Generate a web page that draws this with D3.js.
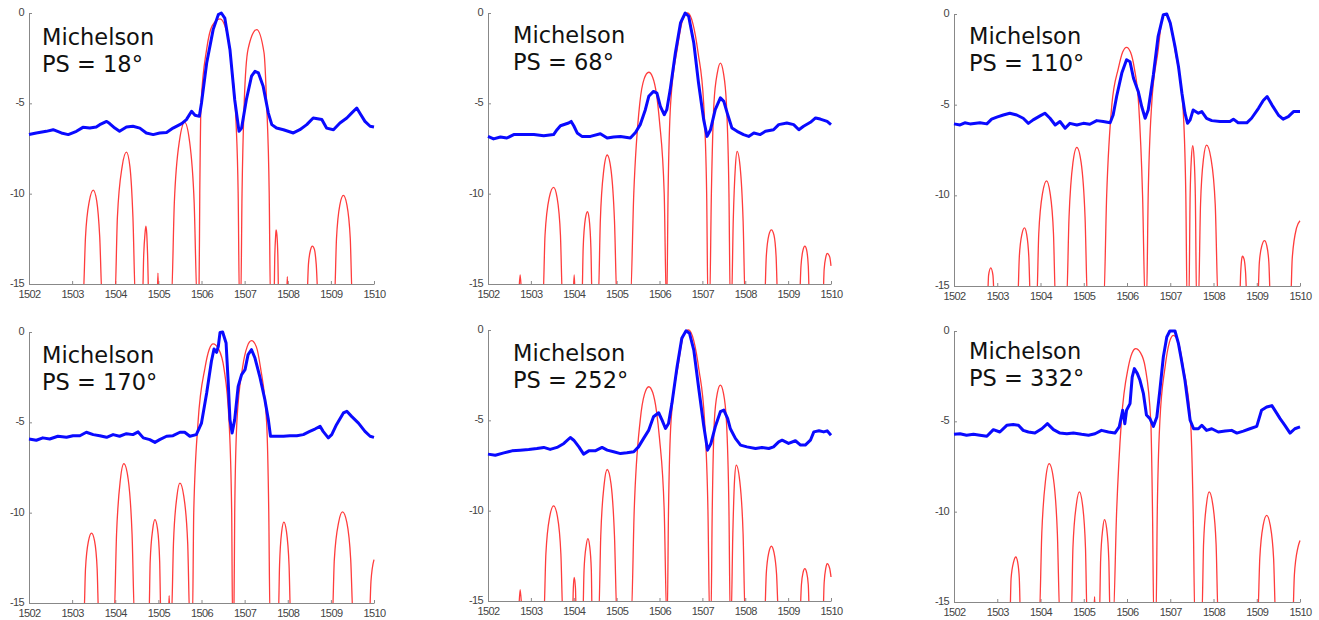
<!DOCTYPE html>
<html>
<head>
<meta charset="utf-8">
<script src="https://cdn.jsdelivr.net/npm/d3@7"></script>
<style>
  body { margin: 0; background: #fff; }
  .axis path, .axis line { stroke: #888; }
  .axis text { font-family: "Liberation Sans", Arial, sans-serif; font-size: 11px; fill: #444; letter-spacing: -0.6px; }
  .label { font-family: "DejaVu Sans", Verdana, sans-serif; font-size: 22.5px; fill: #111; }
</style>
</head>
<body>
<div id="chart"></div>
<script>
// phase shift of each panel, in reading order
const phaseShifts = [18, 68, 110, 170, 252, 332];
const xTicks = [1502, 1503, 1504, 1505, 1506, 1507, 1508, 1509, 1510];
const yTicks = [0, -5, -10, -15];

// simulated response (red), [wavelength nm, dB]; below -15 is clipped
const red18 = [[1502,-16],[1503.25,-16],[1503.31,-12.4],[1503.40,-10.4],[1503.49,-9.8],[1503.57,-10.4],[1503.64,-12.4],[1503.70,-16],
  [1503.99,-16],[1504.05,-11.3],[1504.16,-8.5],[1504.26,-7.7],[1504.34,-8.5],[1504.41,-11.3],[1504.47,-16],
  [1504.63,-16],[1504.66,-13.4],[1504.69,-12.2],[1504.71,-11.8],[1504.73,-12.2],[1504.75,-13.4],[1504.78,-16],
  [1504.97,-16],[1504.99,-14.4],[1505.01,-16],
  [1505.30,-16],[1505.37,-10.5],[1505.49,-7.05],[1505.61,-6.05],[1505.72,-7.05],[1505.83,-10.5],[1505.90,-16],
  [1505.94,-16],[1505.96,-10],[1505.99,-5],[1506.12,-2],[1506.25,-0.7],[1506.43,-0.33],[1506.58,-1],[1506.70,-3],[1506.80,-6],[1506.85,-10],[1506.88,-16],
  [1506.91,-16],[1506.94,-10],[1506.99,-5],[1507.08,-2],[1507.28,-0.92],[1507.45,-2.2],[1507.51,-5],[1507.57,-10],[1507.60,-16],
  [1507.68,-16],[1507.70,-13.4],[1507.72,-12.3],[1507.73,-12.0],[1507.75,-12.3],[1507.77,-13.4],[1507.79,-16],
  [1507.97,-16],[1507.99,-14.6],[1508.01,-16],
  [1508.44,-16],[1508.48,-13.9],[1508.53,-13.1],[1508.57,-12.9],[1508.62,-13.1],[1508.66,-13.9],[1508.71,-16],
  [1509.08,-16],[1509.13,-12.5],[1509.21,-10.6],[1509.29,-10.1],[1509.37,-10.6],[1509.45,-12.5],[1509.50,-16],[1510,-16]];

const red68 = [[1502,-16],[1502.70,-16],[1502.75,-14.5],[1502.80,-16],
  [1503.28,-16],[1503.33,-12.3],[1503.43,-10.2],[1503.53,-9.65],[1503.61,-10.2],[1503.69,-12.3],[1503.74,-16],
  [1503.98,-16],[1504.01,-14.5],[1504.04,-16],
  [1504.19,-16],[1504.22,-13],[1504.27,-11.4],[1504.32,-11.0],[1504.36,-11.4],[1504.40,-13],[1504.43,-16],
  [1504.57,-16],[1504.62,-11.5],[1504.70,-8.7],[1504.78,-7.86],[1504.87,-8.7],[1504.95,-11.5],[1505.01,-16],
  [1505.32,-16],[1505.40,-10],[1505.54,-5],[1505.64,-3.66],[1505.75,-3.28],[1505.84,-3.55],[1505.93,-4.5],[1506.0,-6],[1506.11,-10],[1506.16,-16],
  [1506.17,-16],[1506.20,-10],[1506.26,-5],[1506.42,-1.9],[1506.55,-0.3],[1506.66,0],[1506.78,-0.6],[1506.90,-2.2],[1507.03,-5],[1507.10,-10],[1507.13,-16],
  [1507.17,-16],[1507.21,-10],[1507.27,-5],[1507.35,-3.3],[1507.42,-2.77],[1507.49,-3.3],[1507.56,-5],[1507.62,-10],[1507.65,-16],
  [1507.68,-16],[1507.72,-11.5],[1507.77,-8.5],[1507.81,-7.66],[1507.88,-8.5],[1507.95,-11.5],[1508.0,-16],
  [1508.45,-16],[1508.49,-13.5],[1508.55,-12.3],[1508.61,-12.0],[1508.67,-12.3],[1508.72,-13.5],[1508.76,-16],
  [1509.26,-16],[1509.30,-14],[1509.35,-13.1],[1509.39,-12.9],[1509.43,-13.1],[1509.47,-14],[1509.50,-16],
  [1509.81,-16],[1509.84,-14.2],[1509.88,-13.5],[1509.91,-13.3],[1509.97,-13.5],[1510,-14.0]];

const red110 = [[1502,-16],[1502.77,-16],[1502.80,-14.4],[1502.85,-14.0],[1502.90,-14.4],[1502.94,-16],
  [1503.47,-16],[1503.51,-13.4],[1503.57,-12.15],[1503.63,-11.8],[1503.68,-12.15],[1503.73,-13.4],[1503.77,-16],
  [1503.91,-16],[1503.96,-12.1],[1504.05,-9.85],[1504.14,-9.2],[1504.22,-9.85],[1504.30,-12.1],[1504.35,-16],
  [1504.60,-16],[1504.66,-11.2],[1504.75,-8.2],[1504.84,-7.35],[1504.94,-8.2],[1505.03,-11.2],[1505.09,-16],
  [1505.46,-16],[1505.53,-10],[1505.65,-5],[1505.80,-3],[1505.90,-2.1],[1505.99,-1.84],[1506.08,-2.1],[1506.17,-3],[1506.27,-5],[1506.36,-10],[1506.42,-16],
  [1506.45,-16],[1506.49,-10],[1506.57,-5],[1506.72,-2],[1506.80,-0.45],[1506.88,0],[1507.0,-0.45],[1507.11,-2],[1507.29,-5],[1507.36,-10],[1507.39,-16],
  [1507.43,-16],[1507.46,-10],[1507.49,-7.9],[1507.52,-7.26],[1507.55,-7.9],[1507.58,-10],[1507.61,-16],
  [1507.65,-16],[1507.70,-10.5],[1507.77,-7.95],[1507.84,-7.23],[1507.94,-7.95],[1508.04,-10.5],[1508.11,-16],
  [1508.60,-16],[1508.63,-14.2],[1508.65,-13.55],[1508.67,-13.36],[1508.71,-13.55],[1508.74,-14.2],[1508.78,-16],
  [1509.02,-16],[1509.06,-13.7],[1509.12,-12.76],[1509.18,-12.5],[1509.23,-12.76],[1509.28,-13.7],[1509.32,-16],
  [1509.78,-16],[1509.82,-13.5],[1509.92,-11.8],[1510,-11.4]];

const red170 = [[1502,-16],[1503.27,-16],[1503.31,-13.1],[1503.38,-11.56],[1503.45,-11.13],[1503.52,-11.56],[1503.58,-13.1],[1503.62,-16],
  [1503.97,-16],[1504.03,-11.2],[1504.12,-8.15],[1504.20,-7.29],[1504.30,-8.15],[1504.39,-11.2],[1504.45,-16],
  [1504.78,-16],[1504.81,-12.7],[1504.87,-10.9],[1504.92,-10.39],[1504.98,-10.9],[1505.03,-12.7],[1505.06,-16],
  [1505.23,-16],[1505.25,-14.6],[1505.27,-16],
  [1505.30,-16],[1505.35,-11.7],[1505.43,-9.1],[1505.50,-8.36],[1505.59,-9.1],[1505.68,-11.7],[1505.73,-16],
  [1505.79,-16],[1505.82,-10],[1505.92,-5],[1506.08,-2],[1506.18,-0.96],[1506.27,-0.66],[1506.40,-0.96],[1506.52,-2],[1506.64,-5],[1506.70,-10],[1506.72,-16],
  [1506.75,-16],[1506.77,-10],[1506.82,-5],[1506.95,-2],[1507.06,-0.81],[1507.16,-0.48],[1507.27,-0.81],[1507.37,-2],[1507.51,-5],[1507.56,-10],[1507.59,-16],
  [1507.78,-16],[1507.81,-12.9],[1507.86,-11.04],[1507.91,-10.52],[1507.97,-11.04],[1508.03,-12.9],[1508.07,-16],
  [1509.03,-16],[1509.08,-12.6],[1509.18,-10.54],[1509.27,-9.96],[1509.37,-10.54],[1509.46,-12.6],[1509.52,-16],
  [1509.89,-16],[1509.93,-13.8],[1510,-12.6]];

const red252 = [[1502,-16],[1502.70,-16],[1502.75,-14.37],[1502.81,-16],
  [1503.30,-16],[1503.35,-12.4],[1503.44,-10.33],[1503.53,-9.74],[1503.62,-10.33],[1503.70,-12.4],[1503.75,-16],
  [1503.97,-16],[1503.99,-14.3],[1504.01,-13.7],[1504.04,-14.3],[1504.06,-16],
  [1504.21,-16],[1504.24,-13.3],[1504.29,-11.94],[1504.33,-11.55],[1504.37,-11.94],[1504.41,-13.3],[1504.43,-16],
  [1504.58,-16],[1504.63,-11.4],[1504.71,-8.53],[1504.78,-7.72],[1504.87,-8.53],[1504.95,-11.4],[1505.01,-16],
  [1505.34,-16],[1505.41,-10],[1505.55,-5],[1505.65,-3.55],[1505.75,-3.14],[1505.84,-3.45],[1505.93,-4.5],[1506.0,-6],[1506.11,-10],[1506.17,-16],
  [1506.18,-16],[1506.21,-10],[1506.27,-5],[1506.44,-1.9],[1506.56,-0.3],[1506.68,0],[1506.80,-0.6],[1506.92,-2.2],[1507.05,-5],[1507.13,-10],[1507.17,-16],
  [1507.20,-16],[1507.23,-10],[1507.28,-5],[1507.35,-3.48],[1507.42,-3.05],[1507.49,-3.48],[1507.56,-5],[1507.62,-10],[1507.65,-16],
  [1507.67,-16],[1507.71,-11.3],[1507.75,-8.32],[1507.79,-7.48],[1507.87,-8.32],[1507.95,-11.3],[1508.0,-16],
  [1508.45,-16],[1508.49,-13.5],[1508.55,-12.31],[1508.61,-11.97],[1508.67,-12.31],[1508.73,-13.5],[1508.78,-16],
  [1509.27,-16],[1509.31,-14.1],[1509.35,-13.41],[1509.39,-13.21],[1509.43,-13.41],[1509.47,-14.1],[1509.50,-16],
  [1509.81,-16],[1509.84,-14],[1509.88,-13.17],[1509.91,-12.93],[1509.97,-13.2],[1510,-13.67]];

const red332 = [[1502,-16],[1503.29,-16],[1503.32,-13.7],[1503.38,-12.77],[1503.43,-12.51],[1503.47,-12.77],[1503.51,-13.7],[1503.54,-16],
  [1503.97,-16],[1504.03,-11.2],[1504.12,-8.19],[1504.20,-7.34],[1504.30,-8.19],[1504.39,-11.2],[1504.45,-16],
  [1504.71,-16],[1504.75,-12],[1504.83,-9.59],[1504.90,-8.91],[1504.97,-9.59],[1505.04,-12],[1505.08,-16],
  [1505.23,-16],[1505.25,-14.7],[1505.27,-16],
  [1505.36,-16],[1505.39,-12.7],[1505.44,-10.94],[1505.48,-10.44],[1505.53,-10.94],[1505.58,-12.7],[1505.61,-16],
  [1505.68,-16],[1505.76,-10],[1505.87,-5],[1506.03,-2],[1506.12,-1.2],[1506.20,-0.98],[1506.31,-1.2],[1506.42,-2],[1506.55,-5],[1506.59,-10],[1506.62,-16],
  [1506.67,-16],[1506.70,-10],[1506.76,-5],[1506.88,-2],[1506.98,-0.63],[1507.07,-0.24],[1507.19,-0.63],[1507.30,-2],[1507.47,-5],[1507.53,-10],[1507.57,-16],
  [1507.73,-16],[1507.77,-11.8],[1507.84,-9.55],[1507.90,-8.91],[1507.98,-9.55],[1508.06,-11.8],[1508.11,-16],
  [1509.02,-16],[1509.07,-12.6],[1509.15,-10.73],[1509.23,-10.2],[1509.31,-10.73],[1509.39,-12.6],[1509.44,-16],
  [1509.83,-16],[1509.87,-13.5],[1509.95,-12.0],[1510,-11.59]];

// measured spectrum (blue), [wavelength nm, dB]
const blue18 = [[1502,-6.73],[1502.17,-6.64],[1502.40,-6.55],[1502.56,-6.46],[1502.75,-6.64],[1502.91,-6.73],[1503.10,-6.55],[1503.25,-6.33],[1503.41,-6.37],[1503.56,-6.31],[1503.64,-6.18],[1503.80,-6.0],[1503.87,-6.12],[1503.99,-6.37],[1504.10,-6.55],[1504.26,-6.31],[1504.41,-6.27],[1504.57,-6.37],[1504.72,-6.64],[1504.88,-6.73],[1505.03,-6.64],[1505.19,-6.61],[1505.34,-6.37],[1505.54,-6.12],[1505.65,-5.9],[1505.77,-5.44],[1505.85,-5.66],[1505.95,-5.72],[1506.0,-4.98],[1506.12,-2.77],[1506.27,-0.92],[1506.39,-0.09],[1506.46,0],[1506.54,-0.28],[1506.66,-2.03],[1506.77,-4.8],[1506.87,-6.55],[1506.93,-6.37],[1507.04,-4.8],[1507.16,-3.5],[1507.24,-3.23],[1507.32,-3.32],[1507.43,-4.06],[1507.55,-5.54],[1507.63,-6.18],[1507.74,-6.37],[1507.90,-6.46],[1508.13,-6.64],[1508.28,-6.46],[1508.44,-6.18],[1508.59,-5.81],[1508.79,-5.9],[1508.90,-6.37],[1509.06,-6.46],[1509.21,-6.09],[1509.37,-5.81],[1509.48,-5.54],[1509.60,-5.26],[1509.67,-5.54],[1509.79,-6.0],[1509.91,-6.27],[1510,-6.31]];

const blue68 = [[1502,-6.83],[1502.13,-6.97],[1502.29,-6.86],[1502.44,-6.92],[1502.60,-6.73],[1502.83,-6.73],[1503.07,-6.73],[1503.30,-6.79],[1503.53,-6.73],[1503.61,-6.46],[1503.69,-6.24],[1503.88,-6.09],[1503.94,-6.0],[1504.0,-6.24],[1504.08,-6.64],[1504.19,-6.83],[1504.39,-6.83],[1504.62,-6.68],[1504.78,-6.92],[1504.93,-6.86],[1505.09,-6.83],[1505.32,-6.92],[1505.44,-6.61],[1505.55,-6.18],[1505.67,-5.35],[1505.75,-4.61],[1505.86,-4.34],[1505.94,-4.43],[1506.02,-5.17],[1506.11,-5.63],[1506.17,-5.35],[1506.25,-4.24],[1506.37,-2.21],[1506.49,-0.55],[1506.60,0],[1506.68,-0.18],[1506.80,-1.66],[1506.91,-3.87],[1507.03,-5.9],[1507.11,-6.83],[1507.19,-6.46],[1507.30,-5.35],[1507.42,-4.7],[1507.50,-4.89],[1507.58,-5.54],[1507.69,-6.37],[1507.81,-6.55],[1507.96,-6.73],[1508.08,-6.83],[1508.20,-6.64],[1508.35,-6.73],[1508.47,-6.55],[1508.66,-6.46],[1508.78,-6.18],[1508.97,-6.09],[1509.13,-6.18],[1509.25,-6.46],[1509.36,-6.27],[1509.52,-6.05],[1509.64,-5.81],[1509.75,-5.87],[1509.91,-6.0],[1510,-6.18]];

const blue110 = [[1502,-6.06],[1502.14,-6.12],[1502.25,-6.0],[1502.37,-6.06],[1502.60,-6.0],[1502.76,-6.06],[1502.87,-5.8],[1502.99,-5.69],[1503.14,-5.57],[1503.29,-5.47],[1503.45,-5.57],[1503.60,-5.75],[1503.72,-6.03],[1503.83,-5.84],[1503.99,-5.62],[1504.10,-5.47],[1504.22,-5.75],[1504.34,-6.12],[1504.45,-5.93],[1504.57,-6.3],[1504.68,-6.03],[1504.84,-6.12],[1504.99,-6.03],[1505.14,-6.08],[1505.30,-5.88],[1505.45,-5.93],[1505.61,-6.0],[1505.68,-5.57],[1505.76,-4.55],[1505.88,-3.26],[1505.99,-2.52],[1506.07,-2.63],[1506.15,-3.54],[1506.26,-4.27],[1506.34,-5.1],[1506.42,-5.75],[1506.49,-5.29],[1506.61,-3.35],[1506.72,-1.23],[1506.84,-0.04],[1506.92,0],[1507.0,-0.5],[1507.11,-1.79],[1507.19,-2.89],[1507.27,-4.37],[1507.34,-5.47],[1507.40,-6.03],[1507.46,-5.84],[1507.53,-5.29],[1507.65,-5.47],[1507.73,-5.38],[1507.84,-5.75],[1507.96,-5.88],[1508.15,-5.93],[1508.38,-5.93],[1508.46,-5.8],[1508.57,-6.0],[1508.77,-6.0],[1508.88,-5.75],[1509.04,-5.2],[1509.15,-4.77],[1509.24,-4.55],[1509.35,-5.01],[1509.50,-5.57],[1509.61,-5.8],[1509.73,-5.66],[1509.85,-5.38],[1510,-5.38]];

const blue170 = [[1502,-5.92],[1502.17,-5.99],[1502.32,-5.86],[1502.48,-5.92],[1502.67,-5.77],[1502.87,-5.83],[1503.02,-5.74],[1503.18,-5.74],[1503.33,-5.55],[1503.49,-5.68],[1503.64,-5.74],[1503.80,-5.83],[1503.95,-5.68],[1504.10,-5.77],[1504.26,-5.63],[1504.41,-5.68],[1504.53,-5.53],[1504.65,-5.86],[1504.80,-5.96],[1504.92,-6.11],[1505.03,-5.96],[1505.19,-5.77],[1505.34,-5.74],[1505.50,-5.55],[1505.61,-5.55],[1505.73,-5.77],[1505.88,-5.68],[1506.0,-5.04],[1506.12,-3.38],[1506.23,-1.62],[1506.29,-0.94],[1506.35,-1.13],[1506.39,-0.79],[1506.43,-0.02],[1506.49,0],[1506.57,-0.61],[1506.62,-2.82],[1506.66,-4.85],[1506.71,-5.59],[1506.77,-4.85],[1506.85,-3.01],[1506.93,-2.36],[1507.01,-2.08],[1507.08,-1.25],[1507.16,-0.98],[1507.24,-1.44],[1507.35,-2.45],[1507.47,-3.75],[1507.55,-4.85],[1507.60,-5.77],[1507.74,-5.77],[1507.90,-5.77],[1508.05,-5.74],[1508.21,-5.74],[1508.36,-5.68],[1508.51,-5.5],[1508.63,-5.37],[1508.75,-5.22],[1508.82,-5.5],[1508.94,-5.86],[1509.02,-5.68],[1509.13,-5.13],[1509.29,-4.48],[1509.37,-4.39],[1509.48,-4.67],[1509.64,-5.04],[1509.79,-5.5],[1509.91,-5.77],[1510,-5.83]];

const blue252 = [[1502,-6.87],[1502.17,-6.93],[1502.37,-6.8],[1502.56,-6.69],[1502.75,-6.65],[1502.95,-6.61],[1503.14,-6.56],[1503.30,-6.5],[1503.45,-6.61],[1503.61,-6.5],[1503.77,-6.28],[1503.92,-5.95],[1504.0,-6.1],[1504.12,-6.47],[1504.23,-6.87],[1504.35,-6.69],[1504.50,-6.69],[1504.66,-6.5],[1504.78,-6.65],[1504.93,-6.74],[1505.09,-6.84],[1505.24,-6.8],[1505.40,-6.74],[1505.51,-6.47],[1505.63,-6.0],[1505.75,-5.54],[1505.86,-4.8],[1505.98,-4.58],[1506.06,-4.99],[1506.14,-5.45],[1506.21,-5.17],[1506.29,-4.06],[1506.41,-2.03],[1506.52,-0.46],[1506.62,-0.04],[1506.70,-0.18],[1506.80,-1.11],[1506.91,-3.14],[1507.03,-5.27],[1507.12,-6.65],[1507.20,-6.28],[1507.30,-5.36],[1507.42,-4.52],[1507.50,-4.43],[1507.59,-4.9],[1507.65,-5.45],[1507.77,-6.0],[1507.89,-6.37],[1508.04,-6.47],[1508.24,-6.56],[1508.39,-6.5],[1508.55,-6.56],[1508.66,-6.47],[1508.78,-6.19],[1508.86,-6.1],[1509.01,-6.28],[1509.17,-6.13],[1509.29,-6.37],[1509.40,-6.37],[1509.52,-6.1],[1509.60,-5.64],[1509.72,-5.58],[1509.83,-5.64],[1509.91,-5.58],[1510,-5.82]];

const blue332 = [[1502,-5.72],[1502.14,-5.69],[1502.29,-5.77],[1502.45,-5.72],[1502.60,-5.77],[1502.76,-5.83],[1502.91,-5.46],[1503.06,-5.59],[1503.22,-5.22],[1503.37,-5.18],[1503.49,-5.22],[1503.60,-5.5],[1503.72,-5.59],[1503.87,-5.65],[1504.03,-5.41],[1504.16,-5.13],[1504.30,-5.46],[1504.45,-5.65],[1504.61,-5.69],[1504.76,-5.65],[1504.95,-5.72],[1505.11,-5.77],[1505.26,-5.69],[1505.41,-5.5],[1505.57,-5.59],[1505.72,-5.65],[1505.82,-5.31],[1505.90,-4.39],[1505.95,-5.13],[1505.99,-4.39],[1506.07,-4.02],[1506.12,-2.55],[1506.17,-2.08],[1506.24,-2.36],[1506.30,-2.73],[1506.38,-3.47],[1506.45,-4.65],[1506.53,-4.85],[1506.61,-5.28],[1506.69,-4.76],[1506.76,-3.28],[1506.84,-1.44],[1506.92,-0.33],[1506.99,0],[1507.11,0],[1507.19,-0.7],[1507.26,-1.62],[1507.34,-2.73],[1507.40,-3.84],[1507.46,-4.94],[1507.54,-5.41],[1507.65,-5.41],[1507.73,-5.22],[1507.84,-5.5],[1507.96,-5.41],[1508.11,-5.59],[1508.27,-5.54],[1508.42,-5.5],[1508.54,-5.65],[1508.69,-5.54],[1508.84,-5.41],[1509.0,-5.28],[1509.11,-4.39],[1509.23,-4.21],[1509.35,-4.13],[1509.42,-4.39],[1509.54,-4.85],[1509.65,-5.22],[1509.77,-5.65],[1509.88,-5.41],[1510,-5.31]];

const redSeries = [red18, red68, red110, red170, red252, red332];
const blueSeries = [blue18, blue68, blue110, blue170, blue252, blue332];

// axes boxes on the page, and label offsets inside each box
const boxes = [
  {x: 29, y: 13, w: 345, h: 271, tx: 13, ty: 32},
  {x: 488, y: 13, w: 343, h: 271, tx: 25, ty: 30},
  {x: 954, y: 14, w: 346, h: 272, tx: 15, ty: 30},
  {x: 29, y: 332, w: 345, h: 271, tx: 13, ty: 31},
  {x: 488, y: 330, w: 343, h: 271, tx: 25, ty: 31},
  {x: 954, y: 331, w: 346, h: 271, tx: 15, ty: 28}
];

const svg = d3.select("#chart").append("svg")
    .attr("width", 1319)
    .attr("height", 620);

phaseShifts.forEach((ps, i) => {
    const b = boxes[i];
    const g = svg.append("g").attr("transform", `translate(${b.x},${b.y})`);

    const x = d3.scaleLinear().domain([1502, 1510]).range([0, b.w]);
    const y = d3.scaleLinear().domain([-15, 0]).range([b.h, 0]);

    g.append("clipPath").attr("id", "clip" + i)
      .append("rect")
        .attr("x", -1).attr("y", -4)
        .attr("width", b.w + 3).attr("height", b.h + 4);

    g.append("g")
        .classed("axis", true)
        .attr("transform", `translate(0,${b.h})`)
        .call(d3.axisBottom(x).tickValues(xTicks).tickSize(-3).tickSizeOuter(0)
            .tickPadding(6).tickFormat(d => String(d)));

    const yAxis = g.append("g")
        .classed("axis", true)
        .call(d3.axisLeft(y).tickValues(yTicks).tickSize(-3).tickSizeOuter(0)
            .tickPadding(5).tickFormat(d => String(d)));
    yAxis.selectAll("text").attr("dy", "0.22em");

    const plot = g.append("g").attr("clip-path", `url(#clip${i})`);

    const redLine = d3.line()
        .x(d => x(d[0])).y(d => y(d[1]))
        .curve(d3.curveMonotoneX);
    const blueLine = d3.line()
        .x(d => x(d[0])).y(d => y(d[1]));

    plot.append("path")
        .datum(redSeries[i])
        .attr("d", redLine)
        .attr("fill", "none")
        .attr("stroke", "#ff3c3c")
        .attr("stroke-width", 1.3);

    plot.append("path")
        .datum(blueSeries[i])
        .attr("d", blueLine)
        .attr("fill", "none")
        .attr("stroke", "#0a0aff")
        .attr("stroke-width", 3)
        .attr("stroke-linejoin", "round");

    const label = g.append("text").classed("label", true)
        .attr("x", b.tx).attr("y", b.ty);
    label.append("tspan").attr("x", b.tx).text("Michelson");
    label.append("tspan").attr("x", b.tx).attr("dy", 27).text(`PS = ${ps}°`);
});
</script>
</body>
</html>
